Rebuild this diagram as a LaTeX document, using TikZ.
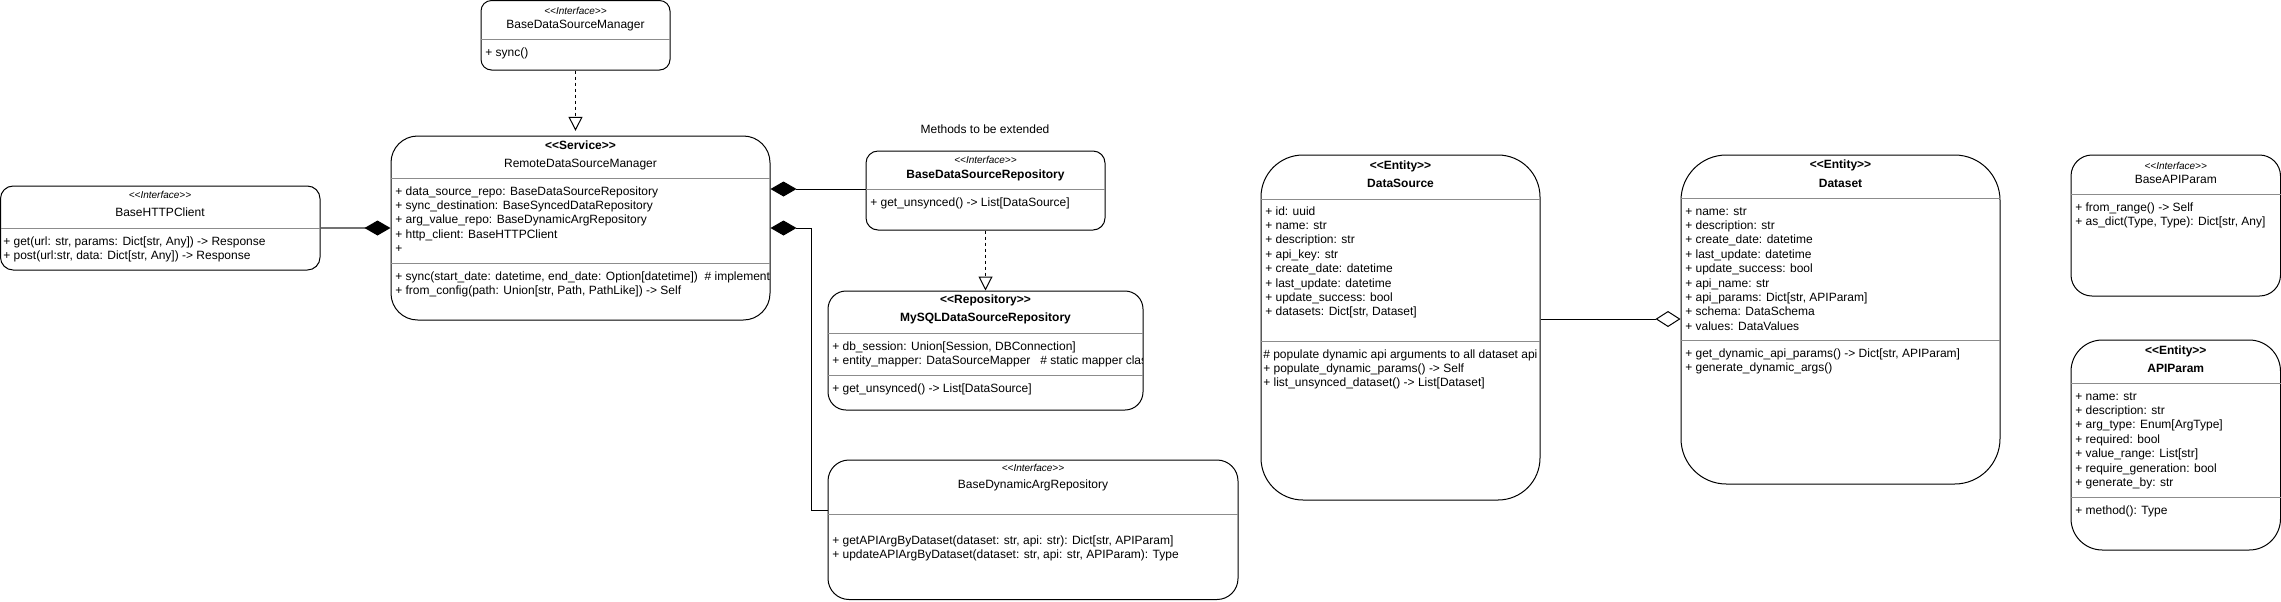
\documentclass[tikz,border=0pt]{standalone}
\usepackage{fontspec}
\setmainfont{Liberation Sans}
\usetikzlibrary{fit,arrows.meta}
\tikzset{
 umlbox/.style={draw=black, line width=0.75pt, fill=white, inner sep=0pt},
 divline/.style={draw=black!45, line width=0.75pt},
 txt/.style={anchor=west, inner sep=0pt, font=\fontsize{9}{10.8}\selectfont, text height=6.6pt, text depth=1.9pt},
 ttl/.style={inner sep=0pt, font=\fontsize{9}{10.8}\selectfont\bfseries, text height=6.6pt, text depth=1.9pt},
 ttlreg/.style={inner sep=0pt, font=\fontsize{9}{10.8}\selectfont, text height=6.6pt, text depth=1.9pt},
 ster/.style={inner sep=0pt, font=\fontsize{7.5}{9}\selectfont\itshape, text height=5.5pt, text depth=1.6pt},
 comp/.style={draw=black, line width=0.75pt, -{Diamond[length=19.5pt,width=11.25pt]}},
 httpline/.style={draw=black!55, line width=1.2pt, -{Diamond[length=19.5pt,width=11.25pt,color=black]}},
 aggr/.style={draw=black, line width=0.75pt, -{Diamond[open,length=18.75pt,width=12pt,fill=white]}},
 real/.style={draw=black, line width=0.75pt, dash pattern=on 2.25pt off 2.25pt, -{Triangle[open,length=10.5pt,width=10.5pt,fill=white]}},
}
\newcommand\umlbox[6]{\node[umlbox, rounded corners=#6, fit={(#2,#3) (#4,#5)}] (#1) {};}
\newcommand\umllines[4]{\foreach \t [count=\i] in {#4}{\node[txt] (#1-\i) at ({#2},{#3+(\i-1)*14.4}) {\t};}}
\newcommand\stt{\textless\kern0pt\textless\kern0pt}
\newcommand\stg{\kern0pt\textgreater\kern0pt\textgreater}
\begin{document}
\begin{tikzpicture}[x=0.75pt,y=-0.75pt]
\useasboundingbox (0,0) rectangle (2281,601);

% ---- BaseDataSourceManager
\umlbox{bdsm}{481}{0.5}{670}{70}{7.9pt}
\node[ster] (bdsm-s) at (575.5,12) {\stt Interface\stg};
\node[ttlreg] (bdsm-n) at (575.5,25) {BaseDataSourceManager};
\draw[divline] (481,39) -- (670,39);
\umllines{bdsm-m}{485}{53}{{+ sync()}}

% ---- RemoteDataSourceManager
\umlbox{rdsm}{391}{136}{770}{320}{20pt}
\node[ttl] (rdsm-s) at (580.5,146) {\stt Service\stg};
\node[ttlreg] (rdsm-n) at (580.5,164) {RemoteDataSourceManager};
\draw[divline] (391,178) -- (770,178);
\draw[divline] (391,263) -- (770,263);
\begin{scope}
\clip (391,136) rectangle (769,320);
\umllines{rdsm-a}{395}{192}{{+ data\_source\_repo: BaseDataSourceRepository},{+ sync\_destination: BaseSyncedDataRepository},{+ arg\_value\_repo: BaseDynamicArgRepository},{+ http\_client: BaseHTTPClient},{+}}
\umllines{rdsm-m}{395}{277}{{+ sync(start\_date: datetime, end\_date: Option[datetime])\ \ \# implement},{+ from\_config(path: Union[str, Path, PathLike]) -> Self}}
\end{scope}

% ---- BaseHTTPClient
\umlbox{http}{0.5}{186}{320}{270}{9.5pt}
\node[ster] (http-s) at (160,196) {\stt Interface\stg};
\node[ttlreg] (http-n) at (160,213) {BaseHTTPClient};
\draw[divline] (0.5,228) -- (320,228);
\umllines{http-m}{3}{242}{{+ get(url: str, params: Dict[str, Any]) -> Response},{+ post(url:str, data: Dict[str, Any]) -> Response}}

% ---- note
\node[ttlreg] (note) at (985,130) {Methods to be extended};

% ---- BaseDataSourceRepository
\umlbox{bdsr}{866}{151}{1105}{230}{9pt}
\node[ster] (bdsr-s) at (985.5,161) {\stt Interface\stg};
\node[ttl] (bdsr-n) at (985.5,175) {BaseDataSourceRepository};
\draw[divline] (866,189) -- (1105,189);
\umllines{bdsr-m}{870}{203}{{+ get\_unsynced() -> List[DataSource]}}

% ---- MySQLDataSourceRepository
\umlbox{mysql}{828}{291}{1143}{410}{13.5pt}
\node[ttl] (mysql-s) at (985.5,300) {\stt Repository\stg};
\node[ttl] (mysql-n) at (985.5,318) {MySQLDataSourceRepository};
\draw[divline] (828,333) -- (1143,333);
\draw[divline] (828,375) -- (1143,375);
\begin{scope}
\clip (828,291) rectangle (1142.5,410);
\umllines{mysql-a}{832}{347}{{+ db\_session: Union[Session, DBConnection]},{+ entity\_mapper: DataSourceMapper\ \ \ \# static mapper class}}
\umllines{mysql-m}{832}{389}{{+ get\_unsynced() -> List[DataSource]}}
\end{scope}

% ---- BaseDynamicArgRepository
\umlbox{bdar}{828}{460}{1238}{599.5}{15.75pt}
\node[ster] (bdar-s) at (1033,469) {\stt Interface\stg};
\node[ttlreg] (bdar-n) at (1033,485) {BaseDynamicArgRepository};
\draw[divline] (828,514) -- (1238,514);
\umllines{bdar-m}{832}{541}{{+ getAPIArgByDataset(dataset: str, api: str): Dict[str, APIParam]},{+ updateAPIArgByDataset(dataset: str, api: str, APIParam): Type}}

% ---- DataSource
\umlbox{ds}{1261}{155}{1540}{500}{31.5pt}
\node[ttl] (ds-s) at (1400.5,166) {\stt Entity\stg};
\node[ttl] (ds-n) at (1400.5,184) {DataSource};
\draw[divline] (1261,199) -- (1540,199);
\draw[divline] (1261,341) -- (1540,341);
\begin{scope}
\clip (1261,155) rectangle (1539.5,500);
\umllines{ds-a}{1265}{212}{{+ id: uuid},{+ name: str},{+ description: str},{+ api\_key: str},{+ create\_date: datetime},{+ last\_update: datetime},{+ update\_success: bool},{+ datasets: Dict[str, Dataset]}}
\umllines{ds-m}{1263}{355}{{\# populate dynamic api arguments to all dataset api},{+ populate\_dynamic\_params() -> Self},{+ list\_unsynced\_dataset() -> List[Dataset]}}
\end{scope}

% ---- Dataset
\umlbox{dset}{1681}{155}{2000}{484}{34pt}
\node[ttl] (dset-s) at (1840.5,165) {\stt Entity\stg};
\node[ttl] (dset-n) at (1840.5,184) {Dataset};
\draw[divline] (1681,198) -- (2000,198);
\draw[divline] (1681,340) -- (2000,340);
\umllines{dset-a}{1685}{212}{{+ name: str},{+ description: str},{+ create\_date: datetime},{+ last\_update: datetime},{+ update\_success: bool},{+ api\_name: str},{+ api\_params: Dict[str, APIParam]},{+ schema: DataSchema},{+ values: DataValues}}
\umllines{dset-m}{1685}{354}{{+ get\_dynamic\_api\_params() -> Dict[str, APIParam]},{+ generate\_dynamic\_args()}}

% ---- BaseAPIParam
\umlbox{bap}{2071}{155}{2280.5}{296}{15.75pt}
\node[ster] (bap-s) at (2175.75,167) {\stt Interface\stg};
\node[ttlreg] (bap-n) at (2175.75,180) {BaseAPIParam};
\draw[divline] (2071,194) -- (2280.5,194);
\umllines{bap-m}{2075}{208}{{+ from\_range() -> Self},{+ as\_dict(Type, Type): Dict[str, Any]}}

% ---- APIParam
\umlbox{ap}{2071}{340}{2280.5}{550}{23.5pt}
\node[ttl] (ap-s) at (2175.75,351) {\stt Entity\stg};
\node[ttl] (ap-n) at (2175.75,369) {APIParam};
\draw[divline] (2071,383) -- (2280.5,383);
\draw[divline] (2071,497) -- (2280.5,497);
\umllines{ap-a}{2075}{397}{{+ name: str},{+ description: str},{+ arg\_type: Enum[ArgType]},{+ required: bool},{+ value\_range: List[str]},{+ require\_generation: bool},{+ generate\_by: str}}
\umllines{ap-m}{2075}{511}{{+ method(): Type}}

% ---- connectors
\coordinate (hd) at (0,228);
\coordinate (d1) at (0,189);
\coordinate (d2) at (811,510);
\coordinate (d3) at (811,228);
\coordinate (d4) at (0,319);
\draw[httpline] (http.east |- hd) -- (rdsm.west |- hd);
\draw[comp] (bdsr.west |- d1) -- (rdsm.east |- d1);
\draw[comp] (bdar.west |- d2) -- (d2) -- (d3) -- (rdsm.east |- d3);
\draw[real, shorten >=3.5pt] (bdsm.south) -- (bdsm.south |- rdsm.north);
\draw[real] (bdsr.south) -- (mysql.north);
\draw[aggr] (ds.east |- d4) -- (dset.west |- d4);
\end{tikzpicture}
\end{document}
